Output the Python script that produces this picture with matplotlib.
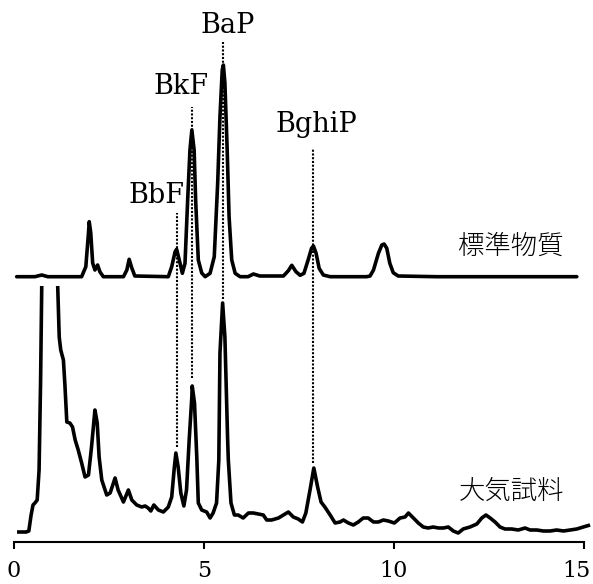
import numpy as np
import matplotlib.pyplot as plt
from matplotlib.transforms import ScaledTranslation

plt.rcParams['font.family'] = ['DejaVu Serif']

# standard mixture (標準物質): retention time [min], signal above its baseline
std_time = [0.07, 0.55, 0.73, 0.89, 1.78, 1.89, 1.96, 1.98, 2.02, 2.07, 2.13, 2.20, 2.26, 2.35,
            2.88, 2.97, 3.03, 3.10, 3.18, 4.06, 4.15, 4.24, 4.28, 4.37, 4.43, 4.50, 4.57, 4.63,
            4.68, 4.74, 4.78, 4.85, 4.94, 5.03, 5.16, 5.27, 5.36, 5.42, 5.48, 5.51, 5.55, 5.61,
            5.66, 5.73, 5.82, 5.95, 6.16, 6.30, 6.47, 7.09, 7.22, 7.31, 7.42, 7.53, 7.63, 7.74,
            7.83, 7.88, 7.95, 8.03, 8.14, 8.32, 9.28, 9.37, 9.46, 9.59, 9.68, 9.74, 9.81, 9.89,
            9.98, 10.11, 11.12, 14.81]
std_signal = [0, 0, 1.7, 0, 0, 10, 43.7, 55, 43.7, 13.7, 6.7, 11.7, 5, 0,
              0, 6.7, 17.4, 8.7, 0.7, 0, 10, 25, 27.4, 13.4, 3.4, 13.4, 76.7, 126.7,
              146.7, 126.7, 76.7, 16.7, 3.7, 0, 3.4, 20, 93.7, 160, 206.7, 211.7, 193.7, 126.7,
              60, 16.7, 3.4, 0, 0, 2.7, 0.7, 0.7, 6, 11.4, 5, 1.4, 3.4, 16.7,
              28.4, 30.7, 23.4, 8.4, 1.7, 0, 0, 0.7, 6.7, 23.4, 31.7, 32.7, 28.4, 13.4,
              4, 0.7, 0, 0]
std_offset = 265.3

# air sample (大気試料): the solvent peak runs off the top of the frame
air_time = [0.08, 0.32, 0.39, 0.45, 0.50, 0.55, 0.61, 0.66, 0.70, 0.73, np.nan,
            1.15, 1.19, 1.23, 1.30, 1.34, 1.39, 1.47, 1.54, 1.61, 1.69, 1.78, 1.87, 1.96,
            2.04, 2.13, 2.19, 2.24, 2.31, 2.44, 2.53, 2.66, 2.74, 2.88, 3.01, 3.10, 3.23,
            3.36, 3.45, 3.53, 3.60, 3.68, 3.80, 3.93, 4.06, 4.15, 4.22, 4.26, 4.32, 4.39,
            4.47, 4.54, 4.61, 4.68, 4.69, 4.75, 4.81, 4.85, 4.94, 5.07, 5.16, 5.24, 5.33,
            5.39, 5.42, 5.49, 5.55, 5.62, 5.64, 5.71, 5.80, 5.90, 6.03, 6.17, 6.30, 6.43,
            6.56, 6.65, 6.78, 6.96, 7.09, 7.22, 7.35, 7.48, 7.59, 7.68, 7.79, 7.89, 7.99,
            8.08, 8.18, 8.32, 8.45, 8.58, 8.67, 8.80, 8.93, 9.06, 9.19, 9.32, 9.46, 9.59,
            9.72, 9.85, 10.01, 10.16, 10.29, 10.38, 10.51, 10.64, 10.77, 10.90, 11.03, 11.17,
            11.30, 11.43, 11.56, 11.69, 11.82, 12.00, 12.18, 12.31, 12.42, 12.53, 12.66,
            12.79, 12.92, 13.10, 13.27, 13.45, 13.58, 13.76, 13.93, 14.11, 14.28, 14.46,
            14.63, 14.81, 14.98, 15.16]
air_signal = [10, 10, 11, 27, 37, 39, 42, 72, 162, 256, np.nan,
              256, 205, 192, 182, 157, 120, 119, 115, 102, 92, 79, 65, 67,
              95, 132, 119, 85, 62, 47, 49, 64, 52, 40, 52, 42, 37,
              35, 36, 34, 31, 37, 32, 30, 35, 45, 75, 89, 75, 49,
              36, 52, 102, 145, 156, 139, 85, 39, 32, 30, 24, 29, 39,
              82, 189, 239, 205, 105, 82, 39, 27, 27, 24, 29, 29, 28,
              27, 22, 22, 24, 27, 30, 25, 23, 20, 29, 52, 74, 55,
              40, 35, 27, 19, 20, 22, 19, 17, 20, 24, 24, 20, 20,
              22, 21, 19, 24, 25, 29, 24, 19, 15, 14, 15, 14,
              14, 15, 11, 9, 13, 15, 18, 24, 27, 24, 20,
              15, 13, 13, 12, 14, 12, 12, 11, 11, 12, 11,
              12, 13, 15, 17]

# peak assignments: label, retention time, dotted guide from (top, bottom)
pah_names = ['BbF', 'BkF', 'BaP', 'BghiP']
pah_rt = [4.28, 4.69, 5.49, 7.88]
guide_top = [329, 435, 500, 393]
guide_bottom = [95, 164, 243, 79]
label_x = [3.74, 4.39, 5.63, 7.95]
label_y = [339, 448, 509, 410]

fig = plt.figure(figsize=(5.93, 5.84), dpi=100)
ax = fig.add_axes([14 / 593, 42 / 584, 570 / 593, 542 / 584])

ax.plot(std_time, np.array(std_signal) + std_offset, color='black', lw=2.6,
        solid_joinstyle='round', solid_capstyle='round', clip_on=False)
ax.plot(air_time, air_signal, color='black', lw=2.6,
        solid_joinstyle='round', solid_capstyle='butt', clip_on=False)

for name, rt, top, bot, lx, ly in zip(pah_names, pah_rt, guide_top, guide_bottom,
                                      label_x, label_y):
    ax.plot([rt, rt], [bot, top], color='black', lw=1.5, dashes=(1, 0.8))
    ax.text(lx, ly, name, ha='center', va='baseline', fontsize=19.5)

ax.text(13.08, 296, '標準物質', ha='center', va='center', fontsize=19,
        family=['Noto Sans CJK JP', 'DejaVu Sans'], fontweight='light')
ax.text(13.08, 51, '大気試料', ha='center', va='center', fontsize=19,
        family=['Noto Sans CJK JP', 'DejaVu Sans'], fontweight='light')

ax.set_xlim(0, 15)
ax.set_ylim(0, 542)
for side in ['top', 'right', 'left']:
    ax.spines[side].set_visible(False)
ax.spines['bottom'].set_linewidth(1.5)
ax.set_yticks([])
ax.set_xticks([0, 5, 10, 15])
ax.tick_params(axis='x', length=5, width=1.5, labelsize=16, pad=8)

# last label sits a little left so it stays inside the picture
last = ax.get_xticklabels()[-1]
last.set_transform(last.get_transform() + ScaledTranslation(-8 / 100, 0, fig.dpi_scale_trans))

fig.savefig('out.png', dpi=100)
